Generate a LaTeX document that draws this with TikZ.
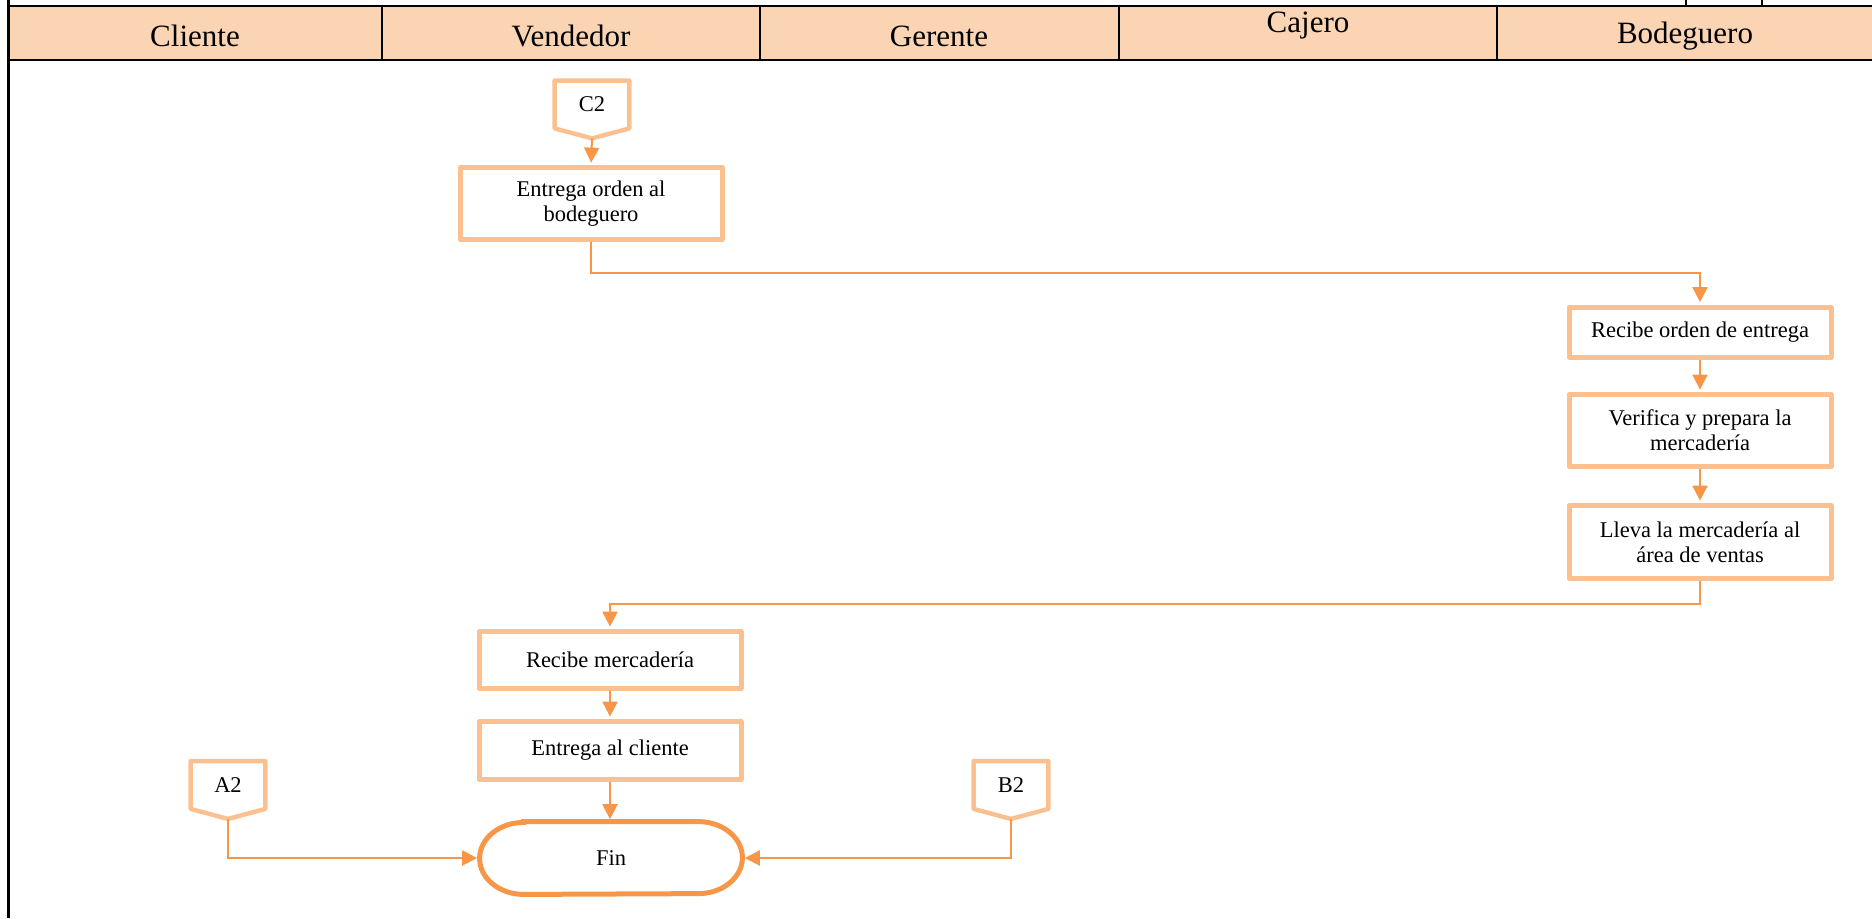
\documentclass[tikz,border=0pt]{standalone}
\usepackage{fontspec}
\setmainfont{Liberation Serif}
\usetikzlibrary{arrows.meta,calc}
\definecolor{laneHead}{HTML}{FBD4B4}
\definecolor{boxEdge}{HTML}{FAC090}
\definecolor{flowLine}{HTML}{F79646}
\begin{document}
\begin{tikzpicture}[x=0.5pt,y=-0.5pt,
  lane/.style={font=\fontsize{15.5}{18}\selectfont, inner sep=0pt},
  txt/.style={font=\fontsize{11.25}{12.5}\selectfont, align=center},
  task/.style={txt, draw=boxEdge, line width=2.5pt, fill=white,
    minimum width=131pt, inner sep=0pt, line join=round},
  term/.style={txt, minimum width=131pt, minimum height=36pt, inner sep=0pt},
  termedge/.style={draw=flowLine, line width=2.5pt},
  offpage/.style={txt, minimum width=37pt, minimum height=23.5pt, inner sep=0pt},
  offedge/.style={draw=boxEdge, line width=2.2pt, line join=round},
  arr/.style={draw=flowLine, line width=1pt,
    -{Triangle[length=7.5pt,width=7.5pt]}, shorten >=1.2pt},
  rule/.style={draw=black, line width=1.3pt},
  divider/.style={draw=black, line width=1pt}
]
\useasboundingbox (0,0) rectangle (1872,918);

% swimlane header
\fill[laneHead] (8,6) rectangle (1872,60);
\draw[rule] (8,6) -- (1872,6);
\draw[rule] (8,60) -- (1872,60);
\draw[draw=black, line width=1.5pt] (8,0) -- (8,918);
\foreach \xx in {382,760,1119,1497} \draw[divider] (\xx,6) -- (\xx,60);
\foreach \xx in {1686,1762} \draw[divider] (\xx,0) -- (\xx,6);

\node[lane] (hCliente)   at (195,36)  {Cliente};
\node[lane] (hVendedor)  at (571,36)  {Vendedor};
\node[lane] (hGerente)   at (939,36)  {Gerente};
\node[lane] (hCajero)    at (1308,26) {Cajero};
\node[lane] (hBodeguero) at (1685,36) {Bodeguero};

% off-page connectors
\node[offpage] (c2) at (592,104.5) {C2};
\draw[offedge] (c2.north west) -- (c2.north east) -- (c2.south east)
  -- ($(c2.south)+(0,10)$) coordinate (c2tip) -- (c2.south west) -- cycle;

\node[offpage] (a2) at (228,785) {A2};
\draw[offedge] (a2.north west) -- (a2.north east) -- (a2.south east)
  -- ($(a2.south)+(0,10)$) coordinate (a2tip) -- (a2.south west) -- cycle;

\node[offpage] (b2) at (1011,785) {B2};
\draw[offedge] (b2.north west) -- (b2.north east) -- (b2.south east)
  -- ($(b2.south)+(0,10)$) coordinate (b2tip) -- (b2.south west) -- cycle;

% process steps
\node[task, minimum height=36pt]   (e1) at (591,203.5) {Entrega orden al\\bodeguero};
\node[task, minimum height=25pt]   (r1) at (1700,332)  {Recibe orden de entrega};
\node[task, minimum height=36pt]   (v1) at (1700,430.5) {Verifica y prepara la\\mercadería};
\node[task, minimum height=36.5pt] (l1) at (1700,542)  {Lleva la mercadería al\\área de ventas};
\node[task, minimum height=28.5pt] (rm) at (610,660)   {Recibe mercadería};
\node[task, minimum height=29pt]   (ec) at (610,750.5) {Entrega al cliente};

% terminator with elliptical ends
\node[term] (fin) at (611,858) {Fin};
\draw[termedge] ($(fin.north west)+(22pt,0)$) -- ($(fin.north east)+(-22pt,0)$)
  arc[start angle=90, end angle=-90, x radius=22pt, y radius=18pt]
  -- ($(fin.south west)+(22pt,0)$)
  arc[start angle=270, end angle=90, x radius=22pt, y radius=18pt] -- cycle;

% flow
\draw[arr] (c2tip) -- (e1.north);
\draw[arr] (e1.south) |- (r1.north |- 0,273) -- (r1.north);
\draw[arr] (r1.south) -- (v1.north);
\draw[arr] (v1.south) -- (l1.north);
\draw[arr] (l1.south) |- (rm.north |- 0,604) -- (rm.north);
\draw[arr] (rm.south) -- (ec.north);
\draw[arr] (ec.south) -- (fin.north -| ec.south);
\draw[arr] (a2tip) |- (fin.west);
\draw[arr] (b2tip) |- (fin.east);
\end{tikzpicture}
\end{document}
